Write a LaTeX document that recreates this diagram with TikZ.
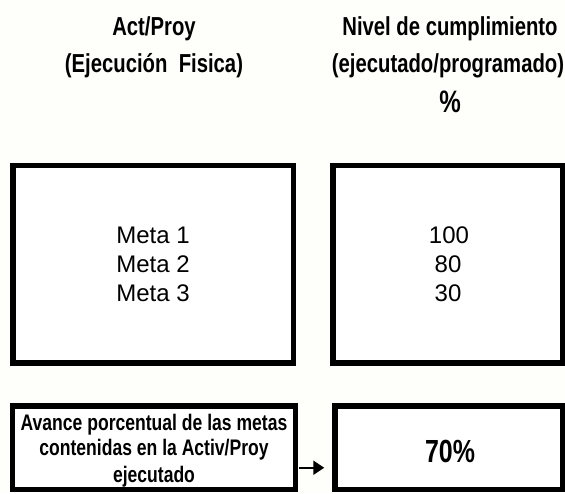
\documentclass[tikz,border=0pt]{standalone}
\usepackage{fontspec}
\setmainfont{Liberation Sans}
\newfontfamily\narrowfont{Liberation Sans}[FakeStretch=0.78]
\usetikzlibrary{arrows.meta}
\definecolor{bgcream}{rgb}{0.996,0.996,0.984}
\tikzset{
  box/.style={draw=black, line width=5.5pt, fill=white, inner sep=0pt},
  head/.style={anchor=base, inner sep=0pt, font=\narrowfont\fontsize{26}{30}\selectfont\bfseries},
  meta/.style={anchor=base, inner sep=0pt, font=\fontsize{24}{28}\selectfont},
  nb/.style={anchor=base, inner sep=0pt, font=\narrowfont\fontsize{22.5}{26}\selectfont\bfseries},
  big/.style={anchor=base, inner sep=0pt, font=\narrowfont\fontsize{32}{36}\selectfont\bfseries},
  arr/.style={line width=2pt, -{Triangle[length=11pt,width=14pt]}}
}
\begin{document}
\begin{tikzpicture}[x=1pt,y=-1pt]
\fill[bgcream] (0,0) rectangle (565,493);
\useasboundingbox (0,0) rectangle (565,493);
% boxes
\node[box, minimum width=280.5pt, minimum height=197.5pt] (A) at (153.25,264.25) {};
\node[box, minimum width=229.5pt, minimum height=197.5pt] (B) at (447.75,264.25) {};
\node[box, minimum width=283pt, minimum height=83.5pt] (C) at (154,447.75) {};
\node[box, minimum width=227.5pt, minimum height=83.5pt] (D) at (448.75,447.75) {};
% headers
\node[head] (h1) at (154,35) {Act/Proy};
\node[head] (h2) at (154,72) {(Ejecución\ \ Fisica)};
\node[head] (h3) at (450,35) {Nivel de cumplimiento};
\node[head] (h4) at (448,72) {(ejecutado/programado)};
\node[head, font=\narrowfont\fontsize{31}{34}\selectfont\bfseries] (h5) at (450,112) {\%};
% metas
\node[meta] (m1) at (153,243) {Meta 1};
\node[meta] (m2) at (153,272.5) {Meta 2};
\node[meta] (m3) at (153,301) {Meta 3};
\node[meta] (v1) at (449,243) {100};
\node[meta] (v2) at (448,272.5) {80};
\node[meta] (v3) at (448,301) {30};
% bottom
\node[nb] (c1) at (154,430) {Avance porcentual de las metas};
\node[nb] (c2) at (154,455.5) {contenidas en la Activ/Proy};
\node[nb] (c3) at (154,482) {ejecutado};
\node[big] (d1) at (450,462) {70\%};
% arrow
\draw[arr, shorten <=1pt, shorten >=8pt] ([yshift=-20pt]C.east) -- ([yshift=-20pt]D.west);
\end{tikzpicture}
\end{document}
